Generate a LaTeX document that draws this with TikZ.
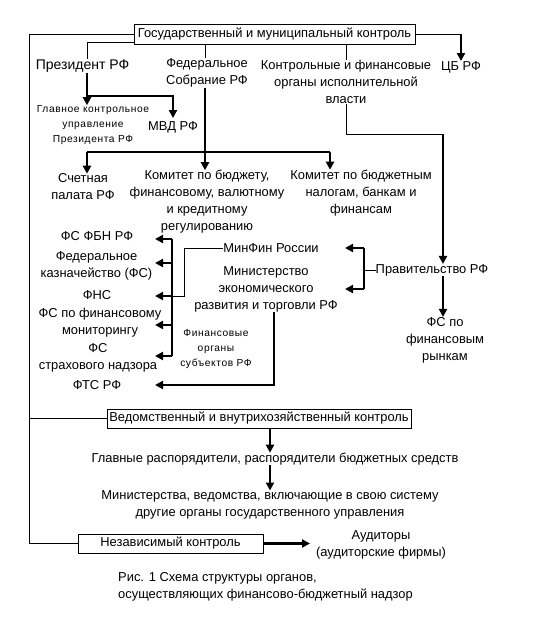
\documentclass[tikz,border=0pt]{standalone}
\usepackage{fontspec}
\setmainfont{Liberation Sans}
\newfontfamily\smallsp[LetterSpace=6]{Liberation Sans}
\usetikzlibrary{arrows.meta,calc}
\begin{document}
\begin{tikzpicture}[x=1pt,y=-1pt,
  txt/.style={inner sep=0pt,align=center,font=\fontsize{12.9}{17}\selectfont},
  big/.style={inner sep=0pt,align=center,font=\fontsize{14}{17}\selectfont},
  sml/.style={inner sep=0pt,align=center,font=\smallsp\fontsize{10.2}{15}\selectfont},
  boxed/.style={draw,line width=0.9pt,inner sep=0pt,font=\fontsize{12.9}{17}\selectfont},
  thn/.style={line width=0.9pt},
  thk/.style={line width=2.2pt},
  arr/.style={thk,-{Triangle[length=8pt,width=8pt]}}]
\fill[white] (0,0) rectangle (547,636);
\useasboundingbox (0,0) rectangle (547,636);
% nodes
\node[boxed,minimum width=281pt,minimum height=20pt] (gos) at (274.5,34) {Государственный и муниципальный контроль};
\node[txt] (cb) at (461,67) {ЦБ РФ};
\node[big] (pres) at (82.5,66) {Президент РФ};
\node[txt] (fed) at (207,73) {Федеральное\\Собрание РФ};
\node[txt] (ctrl) at (346,82) {Контрольные и финансовые\\органы исполнительной\\власти};
\node[sml] (gku) at (93,125) {Главное контрольное\\управление\\Президента РФ};
\node[txt] (mvd) at (173,127) {МВД РФ};
\node[txt] (sp) at (83,187) {Счетная\\палата РФ};
\node[txt] (kb) at (207,202) {Комитет по бюджету,\\финансовому, валютному\\и кредитному\\регулированию};
\node[txt] (kn) at (361,193) {Комитет по бюджетным\\налогам, банкам и\\финансам};
\node[txt] (fsfbn) at (97,236) {ФС ФБН РФ};
\node[txt] (fk) at (96.5,266) {Федеральное\\казначейство (ФС)};
\node[txt] (fns) at (97,295.5) {ФНС};
\node[txt] (fsfm) at (100,323) {ФС по финансовому\\мониторингу};
\node[txt] (fssn) at (98,358) {ФС\\страхового надзора};
\node[txt] (fts) at (97,385) {ФТС РФ};
\node[txt] (minfin) at (271,248) {МинФин России};
\node[txt] (minek) at (266,289) {Министерство\\экономического\\развития и торговли РФ};
\node[sml] (finorg) at (216,349) {Финансовые\\органы\\субъектов РФ};
\node[txt] (prav) at (432,270) {Правительство РФ};
\node[txt] (fsfr) at (445,340) {ФС по\\финансовым\\рынкам};
\node[boxed,minimum width=304pt,minimum height=19pt] (ved) at (259,418.5) {Ведомственный и внутрихозяйственный контроль};
\node[txt] (glr) at (275,459) {Главные распорядители, распорядители бюджетных средств};
\node[txt] (min) at (270,505) {Министерства, ведомства, включающие в свою систему\\другие органы государственного управления};
\node[boxed,minimum width=185pt,minimum height=19pt] (nez) at (170.5,543.5) {Независимый контроль};
\node[txt] (aud) at (381,545) {Аудиторы\\(аудиторские фирмы)};
\node[txt,align=left,anchor=west] (cap) at (118,587) {Рис. 1 Схема структуры органов,\\осуществляющих финансово-бюджетный надзор};
% helper coordinates
\coordinate (xL) at (29,0);
\coordinate (xP) at (87,0);
\coordinate (fedx) at (205,0);
\coordinate (ctrlx) at (346,0);
\coordinate (knx) at (330,0);
\coordinate (pravx) at (443,0);
\coordinate (bx) at (364,0);
\coordinate (tipR) at (345,0);
\coordinate (bl) at (172,0);
\coordinate (tipL) at (155,0);
\coordinate (mf) at (184,0);
\coordinate (fx) at (274,0);
\coordinate (vx) at (270,0);
\coordinate (tipA) at (310,0);
\coordinate (g42) at ($(gos.south west)+(0,-2)$);
\coordinate (j96) at (87,96);
\coordinate (h152) at (87,152);
\coordinate (c134) at (346,134);
\coordinate (r1) at (172,239);
\coordinate (r2) at (172,263);
\coordinate (r3) at (172,296);
\coordinate (r4) at (172,325);
\coordinate (r5) at (172,356);
% connectors
\draw[thn] (gos.west) -- (gos.west -| xL) -- (nez.west -| xL) -- (nez.west);
\draw[thn] (ved.west -| xL) -- (ved.west);
\draw[thn] (g42) -| (pres.north -| xP);
\draw[thn] (gos.south -| fedx) -- (fed.north -| fedx);
\draw[thn] (gos.south -| ctrlx) -- (ctrl.north -| ctrlx);
\draw[thn] (gos.east) -- (gos.east -| cb);
\draw[arr] (gos.east -| cb) -- (cb.north);
\draw[arr] (pres.south -| xP) -- (gku.north -| xP);
\draw[arr] (j96) -| ($(mvd.north)+(0,-3)$);
\draw[arr] (fed.south -| fedx) -- (kb.north -| fedx);
\draw[thk] (h152) -- (h152 -| knx);
\draw[arr] (h152) -- (sp.north -| h152);
\draw[arr] (h152 -| knx) -- (kn.north -| knx);
\draw[thn] (ctrl.south -| ctrlx) -- (c134) -- (c134 -| pravx);
\draw[arr] (c134 -| pravx) -- (prav.north -| pravx);
\draw[arr] (prav.south -| pravx) -- (fsfr.north -| pravx);
\draw[thn] (prav.west) -- (prav.west -| bx);
\draw[thk] (bx |- minfin) -- (bx |- minek);
\draw[arr] (bx |- minfin) -- (tipR |- minfin);
\draw[arr] (bx |- minek) -- (tipR |- minek);
\draw[thk] (r1) -- (r5);
\draw[arr] (r1) -- (r1 -| tipL);
\draw[arr] (r2) -- (r2 -| tipL);
\draw[arr] (r3) -- (r3 -| tipL);
\draw[arr] (r4) -- (r4 -| tipL);
\draw[arr] (r5) -- (r5 -| tipL);
\draw[thn] (minfin.west) -| (mf |- r3) -- (r3);
\draw[arr] (minek.south -| fx) |- (tipL |- fts);
\draw[arr] (ved.south -| vx) -- (glr.north -| vx);
\draw[arr] (glr.south -| vx) -- (min.north -| vx);
\draw[arr] (nez.east) -- (tipA |- nez.east);
\end{tikzpicture}
\end{document}
